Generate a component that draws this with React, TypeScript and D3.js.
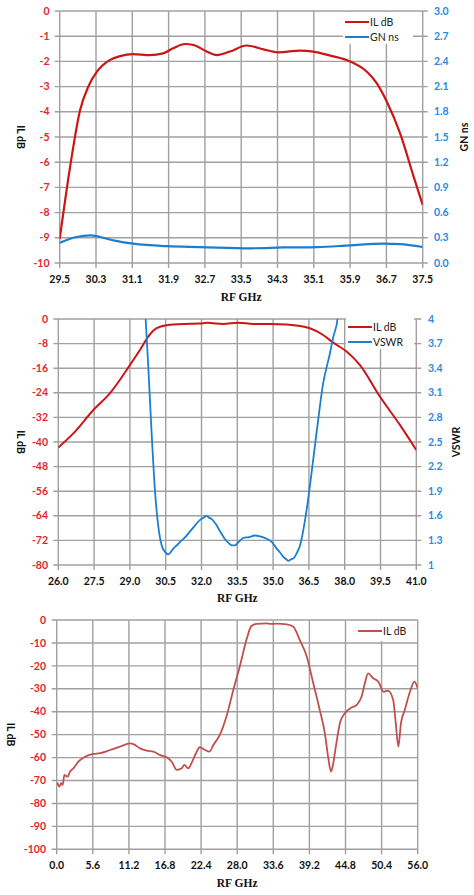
import React from "react";
import * as d3 from "d3";

// ---------- Chart 1 data ----------
const c1Freq = [29.5, 29.73, 29.95, 30.13, 30.32, 30.61, 30.83, 31.12, 31.49, 31.78, 32.0, 32.26, 32.45, 32.74, 32.96, 33.25, 33.62, 33.99, 34.32, 34.8, 35.09, 35.46, 35.9, 36.27, 36.49, 36.71, 37.0, 37.3, 37.5];
const c1IL = [-9.05, -6.18, -3.93, -3.0, -2.41, -1.94, -1.79, -1.71, -1.75, -1.68, -1.48, -1.31, -1.35, -1.61, -1.75, -1.61, -1.37, -1.52, -1.64, -1.57, -1.61, -1.77, -2.0, -2.41, -2.87, -3.6, -4.85, -6.57, -7.7];
const c1GNFreq = [29.5, 29.87, 30.17, 30.39, 30.68, 31.12, 31.86, 32.6, 33.7, 34.43, 35.17, 35.9, 36.63, 37.0, 37.5];
const c1GN = [0.24, 0.31, 0.33, 0.31, 0.27, 0.23, 0.2, 0.19, 0.175, 0.185, 0.19, 0.21, 0.23, 0.225, 0.19];
const c1XTicks = [29.5, 30.3, 31.1, 31.9, 32.7, 33.5, 34.3, 35.1, 35.9, 36.7, 37.5];
const c1YTicks = [0, -1, -2, -3, -4, -5, -6, -7, -8, -9, -10];
const c1Y2Ticks = [0.0, 0.3, 0.6, 0.9, 1.2, 1.5, 1.8, 2.1, 2.4, 2.7, 3.0];

// ---------- Chart 2 data ----------
const c2Freq = [26.0, 26.63, 27.47, 28.16, 29.0, 29.42, 29.77, 30.12, 30.54, 31.24, 31.94, 32.22, 32.5, 32.91, 33.54, 34.17, 34.87, 35.57, 36.13, 36.54, 37.1, 37.52, 38.08, 38.64, 39.48, 40.32, 41.0];
const c2IL = [-41.8, -37.2, -29.6, -24.2, -15.0, -10.1, -5.7, -3.0, -2.0, -1.6, -1.5, -1.2, -1.4, -1.6, -1.2, -1.6, -1.6, -1.8, -2.3, -3.0, -5.2, -7.7, -10.6, -15.0, -25.3, -34.5, -42.6];
const c2VFreq = [29.6, 29.66, 29.77, 29.91, 30.05, 30.19, 30.33, 30.47, 30.61, 30.82, 31.0, 31.17, 31.35, 31.52, 31.75, 31.94, 32.1, 32.22, 32.3, 32.43, 32.6, 32.78, 32.95, 33.13, 33.27, 33.4, 33.55, 33.75, 34.0, 34.24, 34.45, 34.73, 34.95, 35.15, 35.3, 35.43, 35.55, 35.64, 35.75, 35.85, 36.0, 36.13, 36.34, 36.54, 36.82, 37.1, 37.38, 37.52, 37.7, 37.76];
const c2VSWR = [4.3, 4.0, 3.42, 2.61, 1.91, 1.47, 1.24, 1.16, 1.13, 1.2, 1.25, 1.3, 1.35, 1.41, 1.49, 1.55, 1.58, 1.6, 1.58, 1.56, 1.5, 1.41, 1.33, 1.27, 1.24, 1.24, 1.28, 1.33, 1.34, 1.36, 1.35, 1.32, 1.28, 1.2, 1.15, 1.1, 1.07, 1.05, 1.07, 1.08, 1.15, 1.24, 1.55, 1.96, 2.61, 3.22, 3.58, 3.78, 4.0, 4.2];
const c2XTicks = [26.0, 27.5, 29.0, 30.5, 32.0, 33.5, 35.0, 36.5, 38.0, 39.5, 41.0];
const c2YTicks = [0, -8, -16, -24, -32, -40, -48, -56, -64, -72, -80];
const c2Y2Ticks = [1, 1.3, 1.6, 1.9, 2.2, 2.5, 2.8, 3.1, 3.4, 3.7, 4];

// ---------- Chart 3 data ----------
const c3Freq = [0.1, 0.4, 0.67, 0.93, 1.19, 1.45, 1.7, 2.07, 2.59, 3.36, 4.4, 5.69, 6.72, 8.27, 9.82, 11.37, 11.89, 12.93, 13.96, 15.0, 16.03, 17.06, 17.84, 18.62, 19.4, 19.8, 20.4, 20.9, 21.6, 22.2, 23.0, 23.7, 24.3, 25.3, 26.4, 27.4, 28.4, 29.5, 30.2, 31.0, 32.6, 33.1, 34.1, 35.7, 36.7, 37.7, 38.8, 39.8, 40.8, 41.6, 42.1, 42.55, 42.9, 43.3, 44.0, 44.7, 45.8, 46.5, 47.3, 47.8, 48.3, 49.1, 49.9, 50.7, 51.4, 52.2, 52.6, 53.0, 53.4, 54.0, 54.8, 55.5, 56.0];
const c3IL = [-70.9, -72.7, -71.2, -71.9, -67.6, -68.0, -68.3, -66.1, -64.7, -61.8, -59.6, -58.4, -58.1, -56.7, -55.2, -53.8, -54.1, -56.0, -57.0, -57.4, -58.9, -59.9, -61.8, -65.4, -64.7, -63.2, -64.7, -62.5, -58.1, -55.5, -56.7, -57.4, -54.5, -50.1, -41.4, -30.5, -20.3, -8.0, -2.6, -1.7, -1.5, -1.7, -1.6, -1.9, -2.9, -8.7, -16.0, -27.6, -39.2, -49.4, -59.6, -66.1, -62.5, -55.2, -44.3, -40.7, -38.1, -37.1, -33.4, -27.6, -23.3, -25.4, -26.9, -31.3, -30.8, -34.9, -45.1, -55.2, -45.1, -39.2, -31.3, -26.9, -29.8];
const c3XTicks = [0.0, 5.6, 11.2, 16.8, 22.4, 28.0, 33.6, 39.2, 44.8, 50.4, 56.0];
const c3YTicks = [0, -10, -20, -30, -40, -50, -60, -70, -80, -90, -100];

const RED_LINE = "#cc1616";
const BLUE_LINE = "#1b7fd1";
const RED_TXT = "#e2262e";
const BLUE_TXT = "#2a8ae0";
const GRID = "#a0a0a0";
const TICK_FONT = "Lato, 'Open Sans', sans-serif";
const TITLE_FONT = "'Liberation Serif', 'DejaVu Serif', serif";
const TICK_SIZE = 10.5;

type Series = { xs: number[]; ys: number[]; color: string; axis: 1 | 2; width: number };
type Legend = { x: number; y: number; w: number; h: number; items: { label: string; color: string }[] };

interface ChartProps {
  id: string;
  left: number; right: number; top: number; bottom: number;
  xDomain: [number, number]; xTicks: number[]; xFmt: (v: number) => string;
  yDomain: [number, number]; yTicks: number[]; yFmt: (v: number) => string;
  y2Domain?: [number, number]; y2Ticks?: number[]; y2Fmt?: (v: number) => string;
  series: Series[];
  legend: Legend;
  yTitle: string; yTitleX: number;
  y2Title?: string; y2TitleX?: number;
  xTitleY: number; xLabelY: number;
  yLabelX: number; y2LabelX?: number;
}

function Chart(p: ChartProps) {
  const x = d3.scaleLinear().domain(p.xDomain).range([p.left, p.right]);
  const y = d3.scaleLinear().domain(p.yDomain).range([p.bottom, p.top]);
  const y2 = p.y2Domain ? d3.scaleLinear().domain(p.y2Domain).range([p.bottom, p.top]) : null;
  const cy = (p.top + p.bottom) / 2;
  const cx = (p.left + p.right) / 2;
  return (
    <g>
      <defs>
        <clipPath id={p.id}>
          <rect x={p.left} y={p.top} width={p.right - p.left} height={p.bottom - p.top} />
        </clipPath>
      </defs>
      {p.yTicks.map((t) => (
        <line key={"h" + t} x1={p.left - 5} x2={p.right + (y2 ? 5 : 0)} y1={y(t)} y2={y(t)} stroke={GRID} strokeWidth={1.4} />
      ))}
      {p.xTicks.map((t) => (
        <line key={"v" + t} x1={x(t)} x2={x(t)} y1={p.top} y2={p.bottom + 5} stroke={GRID} strokeWidth={1.4} />
      ))}
      <g clipPath={`url(#${p.id})`}>
        {p.series.map((s, i) => {
          const sc = s.axis === 1 ? y : (y2 as d3.ScaleLinear<number, number>);
          const pts = s.xs.map((v, j) => [v, s.ys[j]] as [number, number]);
          const path = d3
            .line<[number, number]>()
            .x((d) => x(d[0]))
            .y((d) => sc(d[1]))
            .curve(d3.curveMonotoneX)(pts);
          return <path key={i} d={path || ""} fill="none" stroke={s.color} strokeWidth={s.width} strokeLinejoin="round" />;
        })}
      </g>
      {/* legend */}
      <rect x={p.legend.x} y={p.legend.y} width={p.legend.w} height={p.legend.h} fill="white" />
      {p.legend.items.map((it, i) => {
        const ly = p.legend.y + 10 + i * 15;
        return (
          <g key={it.label}>
            <line x1={p.legend.x + 2} x2={p.legend.x + 26} y1={ly} y2={ly} stroke={it.color} strokeWidth={2} />
            <text x={p.legend.x + 27} y={ly} dy="0.35em" fontFamily={TICK_FONT} fontSize={10.5} fill="#222">
              {it.label}
            </text>
          </g>
        );
      })}
      {/* tick labels */}
      {p.yTicks.map((t) => (
        <text key={"yl" + t} x={p.yLabelX} y={y(t)} dy="0.35em" textAnchor="end" fontFamily={TICK_FONT} fontWeight="bold" fontSize={TICK_SIZE} fill={RED_TXT}>
          {p.yFmt(t)}
        </text>
      ))}
      {y2 && p.y2Ticks &&
        p.y2Ticks.map((t) => (
          <text key={"y2l" + t} x={p.y2LabelX} y={y2(t)} dy="0.35em" textAnchor="start" fontFamily={TICK_FONT} fontWeight="bold" fontSize={TICK_SIZE} fill={BLUE_TXT}>
            {p.y2Fmt ? p.y2Fmt(t) : String(t)}
          </text>
        ))}
      {p.xTicks.map((t) => (
        <text key={"xl" + t} x={x(t)} y={p.xLabelY} dy="0.35em" textAnchor="middle" fontFamily={TICK_FONT} fontWeight="bold" fontSize={TICK_SIZE} fill="#111">
          {p.xFmt(t)}
        </text>
      ))}
      {/* titles */}
      <text x={cx} y={p.xTitleY} dy="0.35em" textAnchor="middle" fontFamily={TITLE_FONT} fontWeight="bold" fontSize={11.5} fill="#111">
        RF GHz
      </text>
      <text transform={`translate(${p.yTitleX},${cy}) rotate(90)`} dy="0.35em" textAnchor="middle" fontFamily={TICK_FONT} fontWeight="bold" fontSize={10.5} fill="#111">
        {p.yTitle}
      </text>
      {p.y2Title && (
        <text transform={`translate(${p.y2TitleX},${cy}) rotate(-90)`} dy="0.35em" textAnchor="middle" fontFamily={TICK_FONT} fontWeight="bold" fontSize={10.5} fill="#111">
          {p.y2Title}
        </text>
      )}
    </g>
  );
}

const f1 = d3.format(".1f");

export default function App() {
  return (
    <svg width={474} height={895} style={{ position: "absolute", left: 0, top: 0, background: "white" }}>
      <rect width={474} height={895} fill="white" />
      <Chart
        id="c1"
        left={59.7} right={422.7} top={11} bottom={263}
        xDomain={[29.5, 37.5]} xTicks={c1XTicks} xFmt={f1}
        yDomain={[-10, 0]} yTicks={c1YTicks} yFmt={(v) => String(v)}
        y2Domain={[0, 3]} y2Ticks={c1Y2Ticks} y2Fmt={f1}
        series={[
          { xs: c1Freq, ys: c1IL, color: RED_LINE, axis: 1, width: 2.2 },
          { xs: c1GNFreq, ys: c1GN, color: BLUE_LINE, axis: 2, width: 2.2 },
        ]}
        legend={{ x: 343, y: 12, w: 70, h: 32, items: [{ label: "IL dB", color: RED_LINE }, { label: "GN ns", color: BLUE_LINE }] }}
        yTitle="IL dB" yTitleX={21}
        y2Title="GN ns" y2TitleX={464}
        xTitleY={297} xLabelY={279.5}
        yLabelX={49.5} y2LabelX={434}
      />
      <Chart
        id="c2"
        left={58.3} right={416.3} top={319} bottom={565}
        xDomain={[26, 41]} xTicks={c2XTicks} xFmt={f1}
        yDomain={[-80, 0]} yTicks={c2YTicks} yFmt={(v) => String(v)}
        y2Domain={[1, 4]} y2Ticks={c2Y2Ticks} y2Fmt={(v) => String(v)}
        series={[
          { xs: c2Freq, ys: c2IL, color: RED_LINE, axis: 1, width: 2 },
          { xs: c2VFreq, ys: c2VSWR, color: BLUE_LINE, axis: 2, width: 1.8 },
        ]}
        legend={{ x: 346, y: 317, w: 68, h: 32, items: [{ label: "IL dB", color: RED_LINE }, { label: "VSWR", color: BLUE_LINE }] }}
        yTitle="IL dB" yTitleX={21}
        y2Title="VSWR" y2TitleX={456}
        xTitleY={598} xLabelY={581}
        yLabelX={48} y2LabelX={428}
      />
      <Chart
        id="c3"
        left={56.7} right={417.7} top={620} bottom={849.3}
        xDomain={[0, 56]} xTicks={c3XTicks} xFmt={f1}
        yDomain={[-100, 0]} yTicks={c3YTicks} yFmt={(v) => String(v)}
        series={[{ xs: c3Freq, ys: c3IL, color: "#c0504d", axis: 1, width: 1.8 }]}
        legend={{ x: 356, y: 621, w: 60, h: 20, items: [{ label: "IL dB", color: "#c0504d" }]}}
        yTitle="IL dB" yTitleX={11}
        xTitleY={883} xLabelY={865.7}
        yLabelX={46}
      />
    </svg>
  );
}
